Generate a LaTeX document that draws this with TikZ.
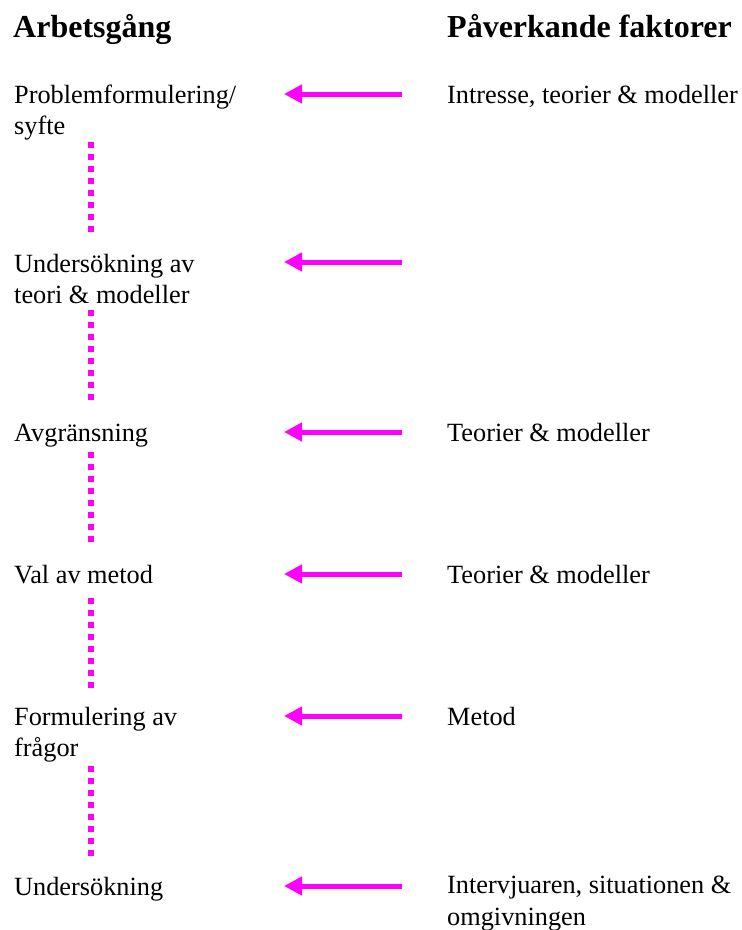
\documentclass[tikz,border=0pt]{standalone}
\usepackage{fontspec}
\setmainfont{Liberation Serif}
\usetikzlibrary{arrows.meta}
\definecolor{mag}{RGB}{255,0,255}
\tikzset{
  txt/.style={anchor=base west, inner sep=0pt, align=left, font=\fontsize{26.3}{31.5}\selectfont},
  head/.style={anchor=base west, inner sep=0pt, font=\fontsize{32}{38}\selectfont\bfseries},
  infl/.style={draw=mag, line width=5pt, -{Triangle[length=18pt,width=18pt]}},
  dots/.style={draw=mag, line width=6pt, dash pattern=on 6pt off 6pt}
}
\begin{document}
\begin{tikzpicture}[x=1pt,y=-1pt]
\useasboundingbox (0,0) rectangle (742,930);
\node[head] (h1) at (13,37) {Arbetsgång};
\node[head] (h2) at (447,37) {Påverkande faktorer};
% left column (base anchor = baseline of last line)
\node[txt] (s1) at (14,134.5) {Problemformulering/\\syfte};
\node[txt] (s2) at (14,303.5) {Undersökning av\\teori \& modeller};
\node[txt] (s3) at (14,441) {Avgränsning};
\node[txt] (s4) at (14,583) {Val av metod};
\node[txt] (s5) at (14,756.5) {Formulering av\\frågor};
\node[txt] (s6) at (14,895) {Undersökning};
% right column
\node[txt] (f1) at (447,103) {Intresse, teorier \& modeller};
\node[txt] (f3) at (447,441) {Teorier \& modeller};
\node[txt] (f4) at (447,583) {Teorier \& modeller};
\node[txt] (f5) at (447,725) {Metod};
\node[txt] (f6) at (447,925) {Intervjuaren, situationen \&\\omgivningen};
% arrows
\foreach \i/\y in {1/94,2/262,3/432,4/574,5/716,6/886}{
  \coordinate (as\i) at (402,\y);
  \coordinate (ae\i) at (284,\y);
  \draw[infl] (as\i) -- (ae\i);
}
% dotted connectors
\foreach \i/\a/\b in {1/142/232,2/310/400,3/452/542,4/598/688,5/766/856}{
  \coordinate (dt\i) at (91,\a);
  \coordinate (db\i) at (91,\b);
  \draw[dots] (dt\i) -- (db\i);
}
\end{tikzpicture}
\end{document}
